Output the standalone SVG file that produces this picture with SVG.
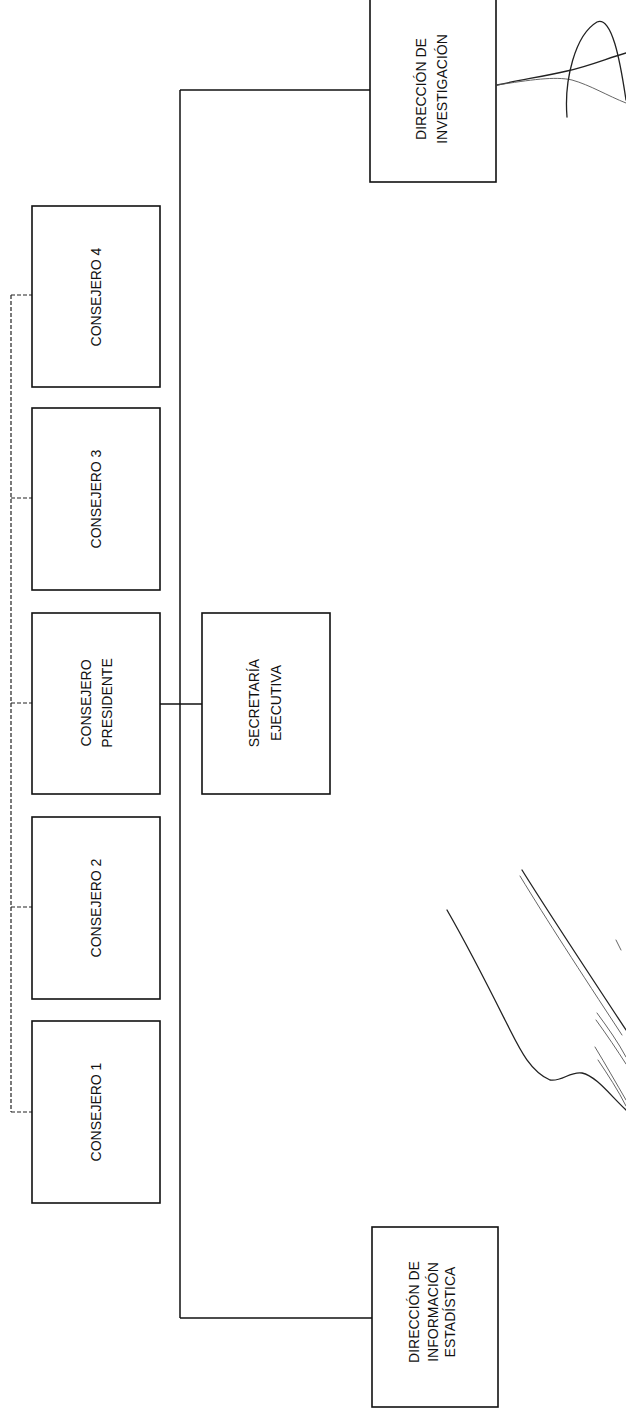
<svg xmlns="http://www.w3.org/2000/svg" width="626" height="1416" viewBox="0 0 626 1416">
<style>
.box{fill:#fff;stroke:#111;stroke-width:1.6}
.t{font-family:"Liberation Sans",Arial,sans-serif;font-size:14px;fill:#111;text-anchor:middle}
.ln{fill:none;stroke:#111;stroke-width:1.5}
.dash{fill:none;stroke:#222;stroke-width:1.2;stroke-dasharray:4 2}
.sig{fill:none;stroke:#222;stroke-width:1.3;stroke-linecap:round}
.sigf{fill:none;stroke:#555;stroke-width:0.9;stroke-linecap:round}
</style>
<rect width="626" height="1416" fill="#fff"/>
<g id="connectors">
<path class="dash" d="M11 295 V1112"/>
<path class="dash" d="M11 295 H32 M11 498 H32 M11 703 H32 M11 907 H32 M11 1112 H32"/>
<path class="ln" d="M180 90 V1318"/>
<path class="ln" d="M180 90 H370"/>
<path class="ln" d="M180 1318 H372"/>
<path class="ln" d="M160 704 H202"/>
</g>
<g id="consejero4">
<rect class="box" x="32" y="206" width="128" height="181"/>
<text class="t" transform="translate(101,297) rotate(-90)">CONSEJERO 4</text>
</g>
<g id="consejero3">
<rect class="box" x="32" y="408" width="128" height="182"/>
<text class="t" transform="translate(101,499) rotate(-90)">CONSEJERO 3</text>
</g>
<g id="consejero-presidente">
<rect class="box" x="32" y="613" width="128" height="181"/>
<text class="t" transform="translate(90.5,703) rotate(-90)">CONSEJERO</text>
<text class="t" transform="translate(111.5,703) rotate(-90)">PRESIDENTE</text>
</g>
<g id="consejero2">
<rect class="box" x="32" y="817" width="128" height="182"/>
<text class="t" transform="translate(101,908) rotate(-90)">CONSEJERO 2</text>
</g>
<g id="consejero1">
<rect class="box" x="32" y="1021" width="128" height="182"/>
<text class="t" transform="translate(101,1112) rotate(-90)">CONSEJERO 1</text>
</g>
<g id="secretaria-ejecutiva">
<rect class="box" x="202" y="613" width="128" height="181"/>
<text class="t" transform="translate(259,703) rotate(-90)">SECRETARÍA</text>
<text class="t" transform="translate(281,703) rotate(-90)">EJECUTIVA</text>
</g>
<g id="direccion-investigacion">
<rect class="box" x="370" y="-2" width="126" height="184"/>
<text class="t" transform="translate(426,89) rotate(-90)">DIRECCIÓN DE</text>
<text class="t" transform="translate(447,89) rotate(-90)">INVESTIGACIÓN</text>
</g>
<g id="direccion-informacion-estadistica">
<rect class="box" x="372" y="1227" width="126" height="180"/>
<text class="t" transform="translate(419,1312) rotate(-90)">DIRECCIÓN DE</text>
<text class="t" transform="translate(437.5,1312) rotate(-90)">INFORMACIÓN</text>
<text class="t" transform="translate(454.5,1312) rotate(-90)">ESTADÍSTICA</text>
</g>
<g id="signature-top">
<path class="sig" d="M497 85 C520 80 545 76 567 71 C590 66 608 58 626 53"/>
<path class="sigf" d="M497 85 C530 80 555 76 572 80 C590 85 608 96 626 103"/>
<path class="sig" d="M567 117 C564 80 575 35 597 22 C612 16 620 60 626 100"/>
</g>
<g id="signature-bottom">
<path class="sig" d="M447 910 C470 950 490 990 505 1020 C518 1045 528 1070 550 1080 C562 1082 570 1071 582 1073 C596 1076 610 1095 626 1110"/>
<path class="sig" d="M522 870 C550 915 580 960 626 1030"/>
<path class="sigf" d="M520 876 C548 922 578 968 622 1035"/>
<path class="sigf" d="M597 1013 C608 1028 618 1042 626 1057"/>
<path class="sigf" d="M596 1020 C607 1035 617 1050 626 1064"/>
<path class="sigf" d="M595 1047 C606 1065 616 1083 626 1100"/>
<path class="sigf" d="M598 1060 C608 1075 618 1090 626 1106"/>
<path class="sigf" d="M616 940 L621 950"/>
</g>
</svg>
